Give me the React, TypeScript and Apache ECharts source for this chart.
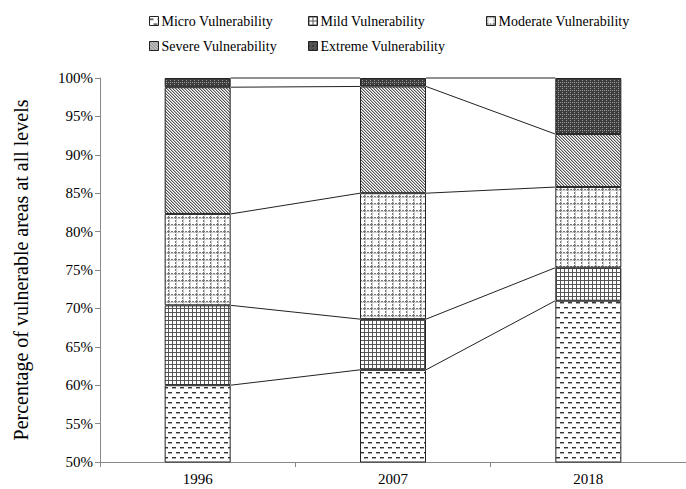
import React, { useEffect, useRef } from 'react';
import * as echarts from 'echarts';

const categories = ['1996', '2007', '2018'];
const seriesNames = [
  'Micro Vulnerability',
  'Mild Vulnerability',
  'Moderate Vulnerability',
  'Severe Vulnerability',
  'Extreme Vulnerability',
];
const microValues = [60.0, 62.0, 71.0];
const mildValues = [10.4, 6.6, 4.3];
const moderateValues = [11.9, 16.4, 10.5];
const severeValues = [16.5, 13.9, 6.9];
const extremeValues = [1.2, 1.1, 7.3];
const yMin = 50;
const yMax = 100;
const yInterval = 5;

const FONT = 'Liberation Serif, Times New Roman, serif';
const BAR_WIDTH = 66;

function makePattern(w: number, h: number, draw: (ctx: CanvasRenderingContext2D) => void) {
  const c = document.createElement('canvas');
  c.width = w;
  c.height = h;
  const ctx = c.getContext('2d') as CanvasRenderingContext2D;
  draw(ctx);
  return { image: c.toDataURL(), repeat: 'repeat', imageWidth: w, imageHeight: h } as any;
}

function buildPatterns() {
  const micro = makePattern(8, 10, (ctx) => {
    ctx.fillStyle = '#fff';
    ctx.fillRect(0, 0, 8, 10);
    ctx.fillStyle = '#333';
    ctx.fillRect(0, 2, 4, 1);
    ctx.fillRect(4, 7, 4, 1);
    ctx.fillStyle = '#aaa';
    ctx.fillRect(0, 3, 4, 1);
    ctx.fillRect(4, 8, 4, 1);
  });
  const mild = makePattern(4, 4, (ctx) => {
    ctx.fillStyle = '#fff';
    ctx.fillRect(0, 0, 4, 4);
    ctx.fillStyle = '#555';
    ctx.fillRect(0, 0, 1, 4);
    ctx.fillRect(0, 0, 4, 1);
  });
  const moderate = makePattern(7, 7, (ctx) => {
    ctx.fillStyle = '#fff';
    ctx.fillRect(0, 0, 7, 7);
    ctx.fillStyle = '#ccc';
    ctx.fillRect(1, 0, 1, 7);
    ctx.fillRect(0, 1, 7, 1);
    ctx.fillStyle = '#777';
    for (let i = 0; i < 7; i++) {
      if (i % 3 !== 2) {
        ctx.fillRect(0, i, 1, 1);
        ctx.fillRect(i, 0, 1, 1);
      }
    }
  });
  const severe = makePattern(3, 3, (ctx) => {
    ctx.fillStyle = '#fff';
    ctx.fillRect(0, 0, 3, 3);
    for (let i = 0; i < 3; i++) {
      ctx.fillStyle = '#555';
      ctx.fillRect(i, i, 1, 1);
      ctx.fillStyle = '#bbb';
      ctx.fillRect((i + 1) % 3, i, 1, 1);
    }
  });
  const extreme = makePattern(4, 4, (ctx) => {
    ctx.fillStyle = '#3c3c3c';
    ctx.fillRect(0, 0, 4, 4);
    ctx.fillStyle = '#9a9a9a';
    ctx.fillRect(2, 0, 1, 1);
    ctx.fillRect(2, 2, 1, 1);
    ctx.fillRect(0, 2, 1, 1);
  });
  return [micro, mild, moderate, severe, extreme];
}

export default function App() {
  const ref = useRef<HTMLDivElement>(null);

  useEffect(() => {
    if (!ref.current) return;
    const chart = echarts.init(ref.current, null, { renderer: 'svg' });
    const patterns = buildPatterns();
    const valueSets = [microValues, mildValues, moderateValues, severeValues, extremeValues];

    // cumulative tops of each level per category
    const tops: number[][] = [];
    valueSets.forEach((vals, k) => {
      tops.push(vals.map((v, i) => (k === 0 ? v : tops[k - 1][i] + v)));
    });

    const legendPos = [
      { left: 144, top: 9 },
      { left: 303, top: 9 },
      { left: 481, top: 9 },
      { left: 144, top: 34 },
      { left: 303, top: 34 },
    ];

    const barSeries = seriesNames.map((name, k) => ({
      name,
      type: 'bar',
      stack: 'total',
      barWidth: BAR_WIDTH,
      data: valueSets[k],
      itemStyle: {
        color: patterns[k],
        borderColor: '#222',
        borderWidth: 1,
      },
      emphasis: { disabled: true },
    }));

    const connector = {
      name: 'connectors',
      type: 'custom',
      data: categories.slice(0, -1).map((_, i) => [i]),
      encode: { x: 0 },
      z: 3,
      renderItem: (params: any, api: any) => {
        const i = api.value(0);
        const half = BAR_WIDTH / 2;
        const children = tops.map((row) => {
          const p1 = api.coord([i, row[i]]);
          const p2 = api.coord([i + 1, row[i + 1]]);
          return {
            type: 'line',
            shape: { x1: p1[0] + half, y1: p1[1], x2: p2[0] - half, y2: p2[1] },
            style: { stroke: '#222', lineWidth: 1 },
          };
        });
        return { type: 'group', children };
      },
    };

    chart.setOption({
      animation: false,
      backgroundColor: '#fff',
      textStyle: { fontFamily: FONT },
      legend: seriesNames.map((name, k) => ({
        data: [name],
        left: legendPos[k].left,
        top: legendPos[k].top,
        icon: 'rect',
        itemWidth: 9,
        itemHeight: 9,
        itemGap: 0,
        selectedMode: false,
        itemStyle: { borderColor: '#222', borderWidth: 1 },
        textStyle: { fontFamily: FONT, fontSize: 14, color: '#000', padding: [0, 0, 0, -2] },
      })),
      grid: { left: 100, top: 78, width: 591, bottom: 27, containLabel: false },
      xAxis: {
        type: 'category',
        data: categories,
        axisLine: { lineStyle: { color: '#888', width: 1 } },
        axisTick: { show: true, length: 5, lineStyle: { color: '#888' } },
        axisLabel: { fontFamily: FONT, fontSize: 15, color: '#000', margin: 9 },
      },
      yAxis: {
        type: 'value',
        min: yMin,
        max: yMax,
        interval: yInterval,
        name: 'Percentage of vulnerable areas at all levels',
        nameLocation: 'middle',
        nameGap: 69,
        nameRotate: 90,
        nameTextStyle: { fontFamily: FONT, fontSize: 20, color: '#000' },
        splitLine: { show: false },
        axisLine: { show: true, lineStyle: { color: '#888', width: 1 } },
        axisTick: { show: true, length: 5, lineStyle: { color: '#888' } },
        axisLabel: { fontFamily: FONT, fontSize: 15, color: '#000', margin: 7, formatter: '{value}%' },
      },
      series: [...barSeries, connector],
    });

    return () => chart.dispose();
  }, []);

  return (
    <div
      ref={ref}
      style={{ position: 'absolute', left: 0, top: 0, width: 686, height: 489 }}
    />
  );
}
